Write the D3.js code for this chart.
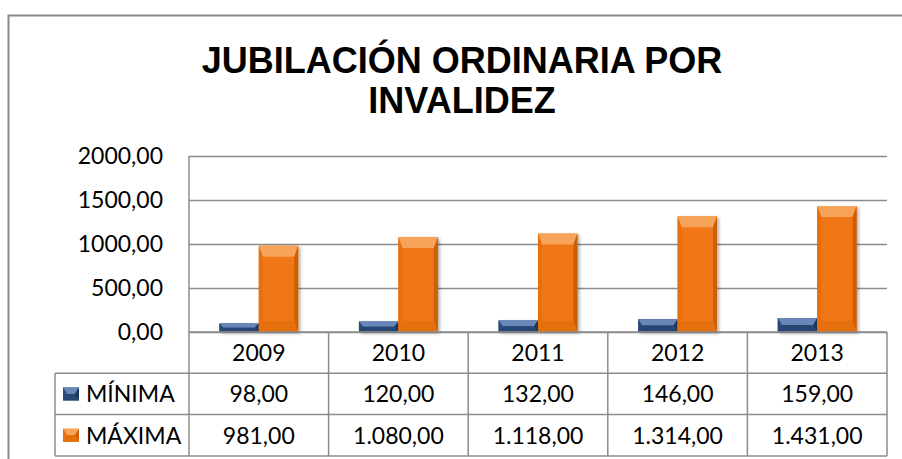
<!DOCTYPE html>
<html lang="es">
<head>
<meta charset="utf-8">
<title>Jubilación ordinaria por invalidez</title>
<script src="https://cdn.jsdelivr.net/npm/d3@7"></script>
<style>
  body { margin: 0; background: #fff; }
  svg text { font-family: Lato, "Open Sans", sans-serif; fill: #000; }
</style>
</head>
<body>
<div id="chart"></div>
<script>
// data
var years = ["2009", "2010", "2011", "2012", "2013"];
var seriesNames = ["MÍNIMA", "MÁXIMA"];
var minima = [98, 120, 132, 146, 159];
var maxima = [981, 1080, 1118, 1314, 1431];
var yTicks = [0, 500, 1000, 1500, 2000];
var titleLines = ["JUBILACIÓN ORDINARIA POR", "INVALIDEZ"];

var W = 902, H = 459;
var plotL = 189, plotR = 887, plotT = 156, plotB = 332;
var rowH = 41.3, legL = 55;

// colours for the bevelled bars: base, top, left, right, bottom
var palette = [
  { base: "#2e5082", top: "#6787b8", left: "#2a4a78", right: "#1d3558", bottom: "#284672" },
  { base: "#f07612", top: "#f8a35a", left: "#e76f0d", right: "#cc5e06", bottom: "#e56e0c" }
];

var es = d3.formatLocale({ decimal: ",", thousands: ".", grouping: [3], currency: ["", ""] });
var fmtAxis = es.format(".2f");
var fmtTable = es.format(",.2f");

var svg = d3.select("#chart").append("svg")
  .attr("width", W)
  .attr("height", H);

var defs = svg.append("defs");
defs.append("filter").attr("id", "shadow")
  .attr("x", "-20%").attr("y", "-20%").attr("width", "150%").attr("height", "150%")
  .append("feDropShadow")
  .attr("dx", 2).attr("dy", 1.5).attr("stdDeviation", 1.5)
  .attr("flood-color", "#000").attr("flood-opacity", 0.3);

// outer frame (only top and left are visible)
svg.append("path")
  .attr("d", "M8.5," + H + "V15.5H" + W)
  .attr("fill", "none")
  .attr("stroke", "#898989")
  .attr("stroke-width", 2);

// title
svg.append("text")
  .attr("x", 462)
  .attr("text-anchor", "middle")
  .style("font-family", "'Liberation Sans', Arial, sans-serif")
  .style("font-weight", "bold")
  .style("font-size", "36px")
  .selectAll("tspan")
  .data(titleLines)
  .join("tspan")
  .attr("x", 462)
  .attr("y", function(d, i) { return 72.5 + i * 40.5; })
  .text(function(d) { return d; });

// scales
var x0 = d3.scaleBand().domain(years).range([plotL, plotR]);
var x1 = d3.scaleBand().domain(seriesNames).range([0, x0.bandwidth()]).paddingOuter(0.77);
var y = d3.scaleLinear().domain([0, 2000]).range([plotB, plotT]);

// gridlines
svg.append("g")
  .attr("transform", "translate(" + plotL + ",0)")
  .call(d3.axisLeft(y).tickValues(yTicks).tickSize(-(plotR - plotL)).tickFormat(""))
  .call(function(g) { g.select(".domain").remove(); })
  .selectAll("line")
  .attr("stroke", "#8c8c8c")
  .attr("stroke-width", 1.5);

// plot left edge
svg.append("line")
  .attr("x1", plotL).attr("x2", plotL)
  .attr("y1", plotT).attr("y2", plotB)
  .attr("stroke", "#8c8c8c").attr("stroke-width", 1.5);

// y labels
var yAxis = svg.append("g")
  .attr("transform", "translate(163,0)")
  .call(d3.axisLeft(y).tickValues(yTicks).tickSize(0).tickPadding(0).tickFormat(fmtAxis));
yAxis.select(".domain").remove();
yAxis.selectAll("text")
  .style("font-size", "23px")
  .style("font-family", "Lato, sans-serif")
  .attr("fill", "#000");

// bars
function bevel(g, x, yTop, w, h, c) {
  var b = Math.min(11, h / 2), s = Math.min(4, w / 4);
  g.append("rect").attr("x", x).attr("y", yTop).attr("width", w).attr("height", h).attr("fill", c.base);
  g.append("path").attr("fill", c.top)
    .attr("d", "M" + x + "," + yTop + "H" + (x + w) + "L" + (x + w - s) + "," + (yTop + b) + "H" + (x + s) + "Z");
  g.append("path").attr("fill", c.left)
    .attr("d", "M" + x + "," + yTop + "L" + (x + s) + "," + (yTop + b) + "V" + (yTop + h - b) + "L" + x + "," + (yTop + h) + "Z");
  g.append("path").attr("fill", c.right)
    .attr("d", "M" + (x + w) + "," + yTop + "V" + (yTop + h) + "L" + (x + w - s) + "," + (yTop + h - b) + "V" + (yTop + b) + "Z");
  g.append("path").attr("fill", c.bottom)
    .attr("d", "M" + x + "," + (yTop + h) + "L" + (x + s) + "," + (yTop + h - b) + "H" + (x + w - s) + "L" + (x + w) + "," + (yTop + h) + "Z");
}

var seriesValues = [minima, maxima];
var barsG = svg.append("g").attr("filter", "url(#shadow)");
seriesValues.forEach(function(vals, si) {
  vals.forEach(function(v, i) {
    var g = barsG.append("g");
    var bx = x0(years[i]) + x1(seriesNames[si]);
    bevel(g, bx, y(v), x1.bandwidth(), y(0) - y(v), palette[si]);
  });
});

// data table
var tbl = svg.append("g").attr("stroke", "#8c8c8c").attr("stroke-width", 1.5);
var rowsY = [plotB, plotB + rowH, plotB + 2 * rowH, plotB + 3 * rowH];
tbl.append("line").attr("x1", plotL).attr("x2", plotR).attr("y1", rowsY[0]).attr("y2", rowsY[0]);
[1, 2, 3].forEach(function(r) {
  tbl.append("line").attr("x1", legL).attr("x2", plotR).attr("y1", rowsY[r]).attr("y2", rowsY[r]);
});
tbl.append("line").attr("x1", legL).attr("x2", legL).attr("y1", rowsY[1]).attr("y2", rowsY[3]);
years.concat(["end"]).forEach(function(yr, i) {
  var xx = i < years.length ? x0(yr) : plotR;
  tbl.append("line").attr("x1", xx).attr("x2", xx).attr("y1", rowsY[0]).attr("y2", rowsY[3]);
});

var txt = svg.append("g").style("font-size", "23px").attr("text-anchor", "middle");
years.forEach(function(yr, i) {
  var cx = x0(yr) + x0.bandwidth() / 2;
  txt.append("text").attr("x", cx).attr("y", (rowsY[0] + rowsY[1]) / 2).attr("dy", "0.36em").text(yr);
  txt.append("text").attr("x", cx).attr("y", (rowsY[1] + rowsY[2]) / 2).attr("dy", "0.36em").text(fmtTable(minima[i]));
  txt.append("text").attr("x", cx).attr("y", (rowsY[2] + rowsY[3]) / 2).attr("dy", "0.36em").text(fmtTable(maxima[i]));
});

// legend keys in the table
seriesNames.forEach(function(name, si) {
  var cy = (rowsY[si + 1] + rowsY[si + 2]) / 2;
  var kg = svg.append("g");
  bevel(kg, 63, cy - 6.5, 16, 13, palette[si]);
  svg.append("text")
    .attr("x", 86).attr("y", cy).attr("dy", "0.36em")
    .style("font-size", "23px")
    .text(name);
});
</script>
</body>
</html>
